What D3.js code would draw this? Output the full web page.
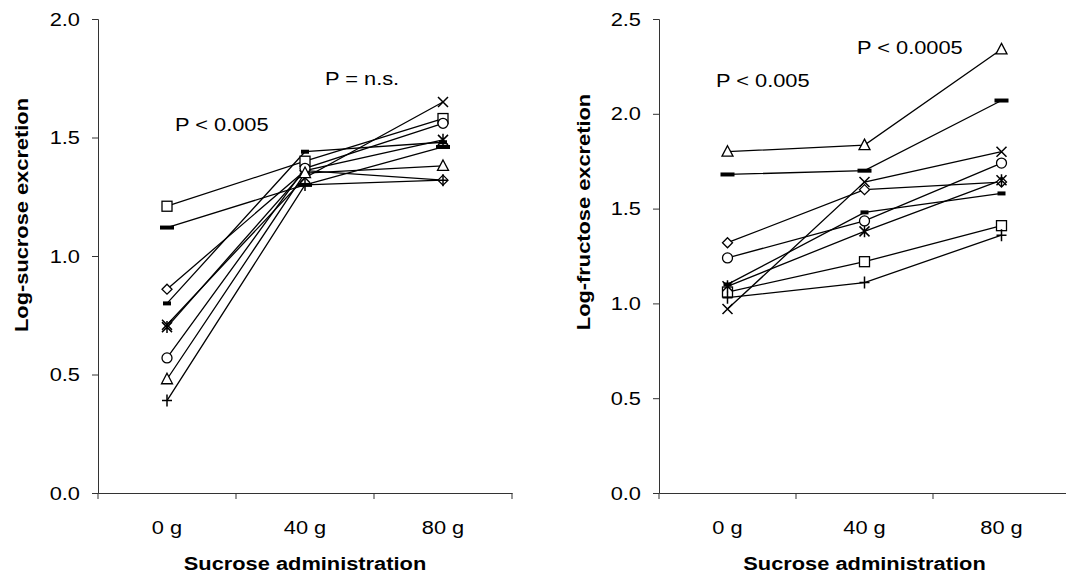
<!DOCTYPE html>
<html><head><meta charset="utf-8">
<script src="https://cdn.jsdelivr.net/npm/d3@7"></script>
<style>body{margin:0;background:#fff} text{font-family:"Liberation Sans",Arial,sans-serif;fill:#000}</style>
</head><body>
<svg id="c" width="1066" height="584"></svg>
<script>
// ---- data ----
const categories = ["0 g", "40 g", "80 g"];
const markerTypes = ["square","longdash","diamond","shortdash","x","star","circle","triangle","plus"];

// Left panel: log-sucrose excretion
const sucSquare    = [1.21, 1.40, 1.58];
const sucLongDash  = [1.12, 1.30, 1.46];
const sucDiamond   = [0.86, 1.36, 1.32];
const sucShortDash = [0.80, 1.44, 1.48];
const sucX         = [0.71, 1.33, 1.65];
const sucStar      = [0.70, 1.36, 1.49];
const sucCircle    = [0.57, 1.37, 1.56];
const sucTriangle  = [0.48, 1.35, 1.38];
const sucPlus      = [0.39, 1.30, 1.32];

// Right panel: log-fructose excretion
const fruSquare    = [1.06, 1.22, 1.41];
const fruLongDash  = [1.68, 1.70, 2.07];
const fruDiamond   = [1.32, 1.60, 1.64];
const fruShortDash = [1.10, 1.48, 1.58];
const fruX         = [0.97, 1.64, 1.80];
const fruStar      = [1.09, 1.38, 1.65];
const fruCircle    = [1.24, 1.435, 1.74];
const fruTriangle  = [1.80, 1.835, 2.34];
const fruPlus      = [1.03, 1.11, 1.36];

const sucTicks = [0, 0.5, 1.0, 1.5, 2.0];
const fruTicks = [0, 0.5, 1.0, 1.5, 2.0, 2.5];

const sucSeries = [sucSquare,sucLongDash,sucDiamond,sucShortDash,sucX,sucStar,sucCircle,sucTriangle,sucPlus];
const fruSeries = [fruSquare,fruLongDash,fruDiamond,fruShortDash,fruX,fruStar,fruCircle,fruTriangle,fruPlus];

// ---- drawing ----
const svg = d3.select("#c");
const FS = 18.5, STRETCH = 1.18;

function txt(g, x, y, s, anchor, bold, rot) {
  const t = g.append("text")
    .attr("transform", `translate(${x},${y})` + (rot ? ` rotate(${rot})` : "") + ` scale(${STRETCH},1)`)
    .attr("text-anchor", anchor || "start")
    .style("font-size", FS + "px")
    .text(s);
  if (bold) t.style("font-weight", "bold");
  return t;
}

function marker(g, type, x, y) {
  const s = 5, sw = 1.3;
  if (type === "square") {
    g.append("rect").attr("x", x - s).attr("y", y - s).attr("width", 2*s).attr("height", 2*s)
      .attr("fill", "#fff").attr("stroke", "#000").attr("stroke-width", sw);
  } else if (type === "longdash") {
    g.append("rect").attr("x", x - 7).attr("y", y - 2).attr("width", 14).attr("height", 4).attr("fill", "#000");
  } else if (type === "shortdash") {
    g.append("rect").attr("x", x - 4).attr("y", y - 2).attr("width", 8).attr("height", 4).attr("fill", "#000");
  } else if (type === "diamond") {
    g.append("path").attr("d", `M${x},${y-s}L${x+s},${y}L${x},${y+s}L${x-s},${y}Z`)
      .attr("fill", "#fff").attr("stroke", "#000").attr("stroke-width", sw);
  } else if (type === "circle") {
    g.append("circle").attr("cx", x).attr("cy", y).attr("r", s)
      .attr("fill", "#fff").attr("stroke", "#000").attr("stroke-width", sw);
  } else if (type === "triangle") {
    g.append("path").attr("d", `M${x},${y-s-1}L${x+s+0.5},${y+s-0.5}L${x-s-0.5},${y+s-0.5}Z`)
      .attr("fill", "#fff").attr("stroke", "#000").attr("stroke-width", sw);
  } else if (type === "x" || type === "star" || type === "plus") {
    let d = "";
    if (type !== "plus") d += `M${x-s},${y-s}L${x+s},${y+s}M${x-s},${y+s}L${x+s},${y-s}`;
    if (type === "star") d += `M${x},${y-s-1}L${x},${y+s+1}`;
    if (type === "plus") d += `M${x-s},${y}L${x+s},${y}M${x},${y-s-1}L${x},${y+s+1}`;
    g.append("path").attr("d", d).attr("fill", "none").attr("stroke", "#000").attr("stroke-width", 1.5);
  }
}

function panel(opts) {
  const g = svg.append("g");
  const x = d3.scaleBand().domain(categories).range([opts.x0, opts.x1]);
  const y = d3.scaleLinear().domain([0, opts.ymax]).range([493, 19]);

  // axes
  const ya = g.append("g").attr("transform", `translate(${opts.x0},0)`)
    .call(d3.axisLeft(y).tickValues(opts.ticks).tickSize(6).tickFormat(() => ""));
  const xa = g.append("g").attr("transform", `translate(0,493)`)
    .call(d3.axisBottom(x).tickSize(0).tickFormat(() => ""));
  [ya, xa].forEach(a => { a.selectAll("path,line").attr("stroke", "#333").attr("stroke-width", 1); });
  // category boundary ticks
  const bounds = [opts.x0].concat(categories.map(c => x(c) + x.bandwidth()));
  g.selectAll(".bt").data(bounds).enter().append("line")
    .attr("x1", d => d).attr("x2", d => d).attr("y1", 493).attr("y2", 499)
    .attr("stroke", "#333").attr("stroke-width", 1);

  // tick labels
  opts.ticks.forEach(t => txt(g, opts.x0 - 18, y(t) + 6.5, d3.format(".1f")(t), "end"));
  categories.forEach(c => txt(g, x(c) + x.bandwidth()/2, 534, c, "middle"));

  // titles
  txt(g, (opts.x0 + opts.x1)/2, 570, "Sucrose administration", "middle", true);
  txt(g, opts.ytx, opts.yty, opts.ytitle, "middle", true, -90);

  // lines
  const cx = c => x(c) + x.bandwidth()/2;
  const line = d3.line().x((d, i) => cx(categories[i])).y(d => y(d));
  opts.series.forEach(s => {
    g.append("path").attr("d", line(s)).attr("fill", "none").attr("stroke", "#000").attr("stroke-width", 1.3);
  });
  opts.series.forEach((s, k) => {
    s.forEach((v, i) => marker(g, markerTypes[k], cx(categories[i]), y(v)));
  });

  opts.notes.forEach(n => txt(g, n[0], n[1], n[2], "start"));
}

panel({x0: 98, x1: 512, ymax: 2.0, ticks: sucTicks, series: sucSeries,
       ytitle: "Log-sucrose excretion", ytx: 28, yty: 215,
       notes: [[175, 131, "P < 0.005"], [325, 85, "P = n.s."]]});
panel({x0: 659, x1: 1070, ymax: 2.5, ticks: fruTicks, series: fruSeries,
       ytitle: "Log-fructose excretion", ytx: 590, yty: 212,
       notes: [[716, 87, "P < 0.005"], [857, 54, "P < 0.0005"]]});
</script>
</body></html>
